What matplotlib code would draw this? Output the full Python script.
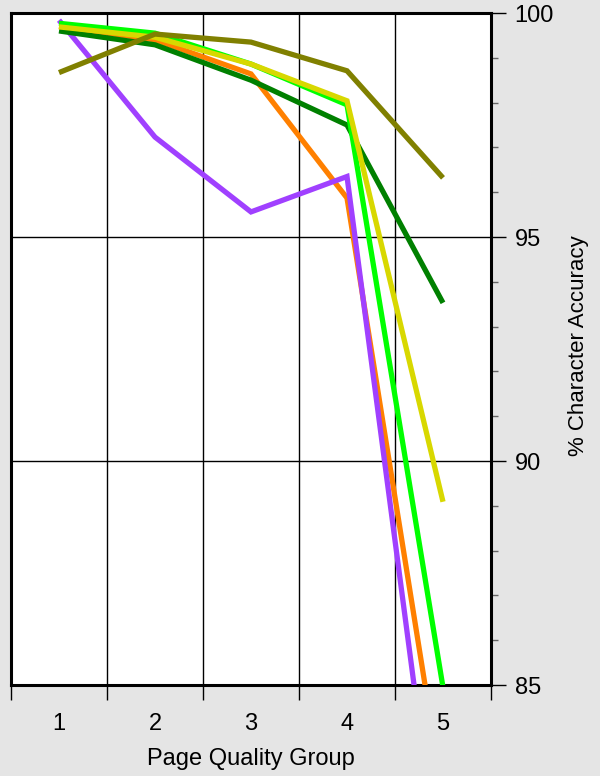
import matplotlib.pyplot as plt
from matplotlib.ticker import FixedLocator, NullFormatter, FixedFormatter

plt.rcParams['font.family'] = ['Liberation Sans', 'DejaVu Sans']

groups = [1, 2, 3, 4, 5]

# % character accuracy per page quality group
orange = [99.70, 99.40, 98.64, 95.87, 82.5]
purple = [99.84, 97.23, 95.56, 96.35, 80.1]
dark_green = [99.60, 99.29, 98.50, 97.50, 93.53]
green = [99.77, 99.55, 98.86, 97.95, 84.95]
yellow = [99.69, 99.46, 98.86, 98.04, 89.09]
olive = [98.67, 99.53, 99.35, 98.71, 96.32]

series = [
    (orange, '#ff8000'),
    (purple, '#a040ff'),
    (dark_green, '#008000'),
    (green, '#00ff00'),
    (yellow, '#d8d800'),
    (olive, '#808000'),
]

bg = '#e5e5e5'
fig = plt.figure(figsize=(6, 7.76), dpi=100, facecolor=bg)
ax = fig.add_axes([11/600, 91/776, 480/600, 672/776])
ax.set_facecolor('white')

for vals, col in series:
    ax.plot(groups, vals, color=col, lw=3.8, solid_capstyle='butt', solid_joinstyle='miter', zorder=3)

ax.set_xlim(0.5, 5.5)
ax.set_ylim(85, 100)

# x: boundaries as major ticks (with grid), labels at centres
ax.xaxis.set_major_locator(FixedLocator([0.5, 1.5, 2.5, 3.5, 4.5, 5.5]))
ax.xaxis.set_major_formatter(NullFormatter())
ax.xaxis.set_minor_locator(FixedLocator(groups))
ax.xaxis.set_minor_formatter(FixedFormatter([str(g) for g in groups]))
ax.tick_params(axis='x', which='major', direction='out', length=11, width=1, color='black')
ax.tick_params(axis='x', which='minor', length=0, pad=20, labelsize=17)

# y on the right
ax.yaxis.tick_right()
ax.yaxis.set_major_locator(FixedLocator([85, 90, 95, 100]))
ax.yaxis.set_minor_locator(FixedLocator([86, 87, 88, 89, 91, 92, 93, 94, 96, 97, 98, 99]))
ax.tick_params(axis='y', which='major', direction='out', length=11, width=1, color='black', pad=6, labelsize=17)
ax.tick_params(axis='y', which='minor', direction='out', length=5, width=1, color='#666666')

for x in [1.5, 2.5, 3.5, 4.5]:
    ax.axvline(x, color='black', lw=1, zorder=1)
for y in [90, 95]:
    ax.axhline(y, color='black', lw=1, zorder=1)

for s in ax.spines.values():
    s.set_linewidth(2.2)
    s.set_color('black')

ax.set_xlabel('Page Quality Group', fontsize=17)
ax.xaxis.set_label_coords(0.5, -0.094)
ax.yaxis.set_label_position('right')
ax.set_ylabel('% Character Accuracy', fontsize=16, rotation=90)
ax.yaxis.set_label_coords(1.160, 0.505)

fig.savefig('out.png', dpi=100, facecolor=bg)
